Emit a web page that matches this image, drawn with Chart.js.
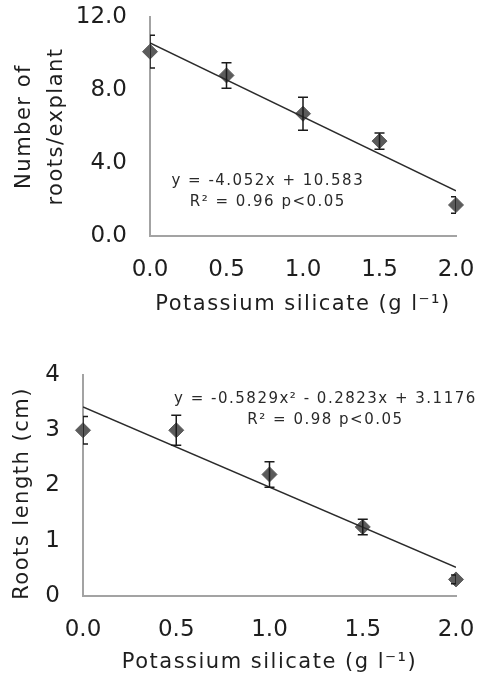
<!DOCTYPE html>
<html>
<head>
<meta charset="utf-8">
<script src="https://cdn.jsdelivr.net/npm/chart.js@4"></script>
<style>
  body { margin: 0; background: #fff; }
  .box { position: absolute; left: 0; width: 478px; height: 340px; }
</style>
</head>
<body>
<div class="box" style="top:0"><canvas id="chartTop" width="478" height="340"></canvas></div>
<div class="box" style="top:340px"><canvas id="chartBottom" width="478" height="340"></canvas></div>
<script>
// dados
const doses = [0, 0.5, 1.0, 1.5, 2.0];

const rootsNumber = [10.1, 8.8, 6.7, 5.2, 1.7];
const rootsNumberErr = [0.9, 0.7, 0.9, 0.45, 0.45];
const rootsNumberTrendX = [0, 2];
const rootsNumberTrendY = [10.58, 2.48];
const rootsNumberTicks = [0, 4, 8, 12];
const rootsNumberNote = ['y = -4.052x + 10.583', 'R² = 0.96 p<0.05'];

const rootsLength = [3.0, 3.0, 2.2, 1.25, 0.3];
const rootsLengthErr = [0.25, 0.27, 0.23, 0.14, 0.08];
const rootsLengthTrendX = [0, 2];
const rootsLengthTrendY = [3.42, 0.52];
const rootsLengthTicks = [0, 1, 2, 3, 4];
const rootsLengthNote = ['y = -0.5829x² - 0.2823x + 3.1176', 'R² = 0.98 p<0.05'];

const xTitle = 'Potassium silicate (g l\u207B\u00B9)';

const FONT = 'DejaVu Sans';
const TEXT = '#1e1e1e';

// barras de erro, cortadas nos limites da área do gráfico
const errorBars = {
  id: 'errorBars',
  beforeDraw(chart) {
    chart.ctx.letterSpacing = '0px';
  },
  afterDatasetsDraw(chart) {
    const { ctx, chartArea, scales } = chart;
    ctx.save();
    ctx.beginPath();
    ctx.rect(chartArea.left, 0, chartArea.right - chartArea.left, chart.height);
    ctx.clip();
    ctx.strokeStyle = '#1a1a1a';
    ctx.lineWidth = 1.5;
    chart.data.datasets.forEach(ds => {
      if (!ds.errors) return;
      ds.data.forEach((p, i) => {
        const x = scales.x.getPixelForValue(p.x);
        const yTop = scales.y.getPixelForValue(p.y + ds.errors[i]);
        const yBot = scales.y.getPixelForValue(p.y - ds.errors[i]);
        ctx.beginPath();
        ctx.moveTo(x, yTop); ctx.lineTo(x, yBot);
        ctx.moveTo(x - 5, yTop); ctx.lineTo(x + 5, yTop);
        ctx.moveTo(x - 5, yBot); ctx.lineTo(x + 5, yBot);
        ctx.stroke();
      });
    });
    ctx.restore();
  }
};

// textos: equação e títulos dos eixos (com espaçamento entre letras)
const texts = {
  id: 'texts',
  afterDraw(chart, args, opts) {
    const { ctx, scales, chartArea } = chart;
    ctx.save();
    ctx.textAlign = 'center';
    ctx.textBaseline = 'middle';

    // equação
    ctx.font = '15px "' + FONT + '"';
    ctx.letterSpacing = '1.5px';
    ctx.fillStyle = '#2a2a2a';
    const nx = scales.x.getPixelForValue(opts.noteX);
    const ny = scales.y.getPixelForValue(opts.noteY);
    opts.note.forEach((t, i) => ctx.fillText(t, nx, ny + i * 21));

    // título do eixo x
    ctx.font = '21px "' + FONT + '"';
    ctx.fillStyle = TEXT;
    ctx.fillText(xTitle, (chartArea.left + chartArea.right) / 2, opts.xTitleY);

    // título do eixo y
    const cy = (chartArea.top + chartArea.bottom) / 2 + opts.yTitleShift;
    opts.yTitle.forEach((t, i) => {
      ctx.save();
      ctx.translate(opts.yTitleX + i * 32, cy);
      ctx.rotate(-Math.PI / 2);
      ctx.fillText(t, 0, 0);
      ctx.restore();
    });
    ctx.letterSpacing = '0px';
    ctx.restore();
    ctx.letterSpacing = '0px';
  }
};

function makeChart(id, cfg) {
  const points = doses.map((d, i) => ({ x: d, y: cfg.values[i] }));
  const trend = cfg.trendX.map((d, i) => ({ x: d, y: cfg.trendY[i] }));
  return new Chart(document.getElementById(id), {
    type: 'scatter',
    data: {
      datasets: [
        {
          type: 'line',
          data: trend,
          borderColor: '#2b2b2b',
          borderWidth: 1.5,
          pointRadius: 0,
          fill: false
        },
        {
          data: points,
          errors: cfg.errors,
          pointStyle: 'rectRot',
          pointRadius: 7.5,
          pointHoverRadius: 7.5,
          backgroundColor: '#5b5b5b',
          borderColor: '#5b5b5b',
          borderWidth: 1,
          clip: false
        }
      ]
    },
    options: {
      responsive: false,
      animation: false,
      layout: { padding: { top: cfg.top, right: 22, left: 0, bottom: 0 } },
      plugins: {
        legend: { display: false },
        tooltip: { enabled: false },
        texts: {
          noteX: cfg.noteX, noteY: cfg.noteY, note: cfg.note,
          xTitleY: cfg.xTitleY,
          yTitle: cfg.yTitle, yTitleX: cfg.yTitleX, yTitleShift: cfg.yTitleShift
        }
      },
      scales: {
        x: {
          type: 'linear',
          min: 0,
          max: 2,
          afterFit: s => { s.height = cfg.xHeight; s.paddingLeft = 0; s.paddingRight = 0; },
          afterBuildTicks: s => { s.ticks = doses.map(v => ({ value: v })); },
          grid: { display: false, drawTicks: false },
          border: { display: true, color: '#a3a3a3', width: 2 },
          ticks: {
            padding: 20,
            color: TEXT,
            font: { family: FONT, size: 23 },
            maxRotation: 0,
            callback: v => Number(v).toFixed(1)
          }
        },
        y: {
          min: 0,
          max: cfg.max,
          afterFit: s => { s.width = cfg.yWidth; s.paddingTop = 0; s.paddingBottom = 0; },
          afterBuildTicks: s => { s.ticks = cfg.ticks.map(v => ({ value: v })); },
          grid: { display: false, drawTicks: false },
          border: { display: true, color: '#a3a3a3', width: 2 },
          ticks: {
            padding: 23,
            color: TEXT,
            font: { family: FONT, size: 23 },
            callback: cfg.tickFmt
          }
        }
      }
    },
    plugins: [errorBars, texts]
  });
}

makeChart('chartTop', {
  values: rootsNumber,
  errors: rootsNumberErr,
  trendX: rootsNumberTrendX,
  trendY: rootsNumberTrendY,
  ticks: rootsNumberTicks,
  max: 12,
  tickFmt: v => Number(v).toFixed(1),
  note: rootsNumberNote,
  noteX: 0.77,
  noteY: 3.0,
  top: 17,
  xHeight: 104,
  yWidth: 150,
  xTitleY: 305,
  yTitle: ['Number of', 'roots/explant'],
  yTitleX: 25,
  yTitleShift: 0
});

makeChart('chartBottom', {
  values: rootsLength,
  errors: rootsLengthErr,
  trendX: rootsLengthTrendX,
  trendY: rootsLengthTrendY,
  ticks: rootsLengthTicks,
  max: 4,
  tickFmt: v => String(v),
  note: rootsLengthNote,
  noteX: 1.30,
  noteY: 3.56,
  top: 35,
  xHeight: 84,
  yWidth: 83,
  xTitleY: 323,
  yTitle: ['Roots length (cm)'],
  yTitleX: 23,
  yTitleShift: 8
});
</script>
</body>
</html>
